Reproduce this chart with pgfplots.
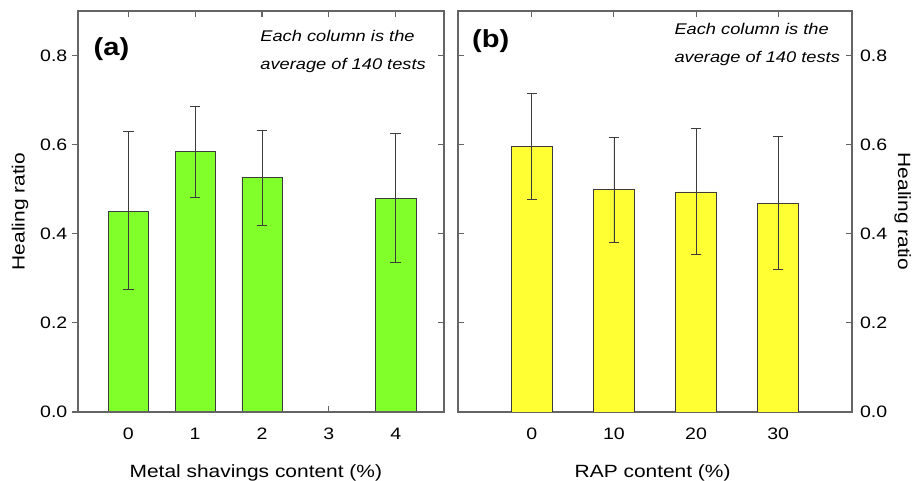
\documentclass[border=0pt]{standalone}
\usepackage{fontspec}
\setmainfont{Liberation Sans}[FakeStretch=1.18]
\usepackage{pgfplots}
\pgfplotsset{compat=1.18}
\usepackage{pgfplotstable}

\definecolor{bargreen}{RGB}{128,255,42}
\definecolor{baryellow}{RGB}{255,255,51}
\definecolor{edge}{RGB}{60,60,60}
\definecolor{axgray}{RGB}{100,100,100}

\pgfplotstableread{
x y ep em
0 0.450 0.180 0.175
1 0.585 0.102 0.104
2 0.526 0.107 0.107
4 0.480 0.146 0.145
}\dataA
\pgfplotstableread{
x y ep em
0 0.596 0.118 0.119
10 0.499 0.118 0.119
20 0.494 0.142 0.140
30 0.469 0.149 0.148
}\dataB

\pgfplotsset{
  panel/.style={
    scale only axis, height=300.75pt,
    ymin=0, ymax=0.9, ytick={0,0.2,0.4,0.6,0.8},
    yticklabel style={/pgf/number format/fixed, /pgf/number format/fixed zerofill, /pgf/number format/precision=1},
    /pgf/number format/assume math mode=true,
    axis line style={axgray, line width=0.95pt},
    every tick/.style={axgray, line width=0.8pt},
    major tick length=4.5pt,
    tick label style={font=\fontsize{12.4}{14}\selectfont},
    label style={font=\fontsize{13.3}{15}\selectfont},
    xticklabel style={yshift=-8.5pt},
    ybar,
  },
  barstyle/.style={draw=edge, line width=0.6pt,
    error bars/.cd, y dir=both, y explicit,
    error bar style={edge, line width=0.6pt},
    error mark options={rotate=90, edge, mark size=4pt, line width=0.6pt},
    /pgfplots/.cd},
}

\begin{document}
\begin{tikzpicture}
\useasboundingbox (-58.5pt,-51.75pt) rectangle (629.25pt,309pt);
% panel (a)
\begin{axis}[panel, at={(0,0)}, anchor=south west, width=274.5pt,
  xmin=-0.75, xmax=4.72, xtick={0,1,2,3,4},
  xtick align=inside, xtick pos=both, xticklabel pos=bottom,
  ytick align=outside, ytick pos=left,
  xlabel={Metal shavings content (\%)},
  ylabel={Healing ratio},
  xlabel style={at={(rel axis cs:0.486,-0.152)}, anchor=center},
  ylabel style={at={(rel axis cs:-0.1585,0.5)}, anchor=center},
]
\addplot[fill=bargreen, bar width=0.6, barstyle]
  table[x=x, y=y, y error plus=ep, y error minus=em]{\dataA};
\node[anchor=west, font=\bfseries\fontsize{18.5}{20}\selectfont] at (rel axis cs:0.030,0.905) {(a)};
\node[anchor=north east, align=left, font=\itshape\fontsize{11.6}{21}\selectfont, inner sep=0pt] at (rel axis cs:0.951,0.953) {Each column is the\\average of 140 tests};
\end{axis}
\begin{axis}[panel, at={(0,0)}, anchor=south west, width=274.5pt,
  xmin=-0.75, xmax=4.72, xtick=\empty,
  ytick align=inside, ytick pos=right, yticklabels={},
]
\end{axis}
% panel (b)
\begin{axis}[panel, at={(285pt,0)}, anchor=south west, width=295.5pt,
  xmin=-9, xmax=39, xtick={0,10,20,30},
  tick align=inside, xtick pos=both, xticklabel pos=bottom,
  ytick pos=both, yticklabel pos=right,
  yticklabel style={xshift=2.5pt},
  xlabel={RAP content (\%)},
  ylabel={Healing ratio},
  xlabel style={at={(rel axis cs:0.494,-0.152)}, anchor=center},
  ylabel style={at={(rel axis cs:1.129,0.5)}, anchor=center, rotate=180},
]
\addplot[fill=baryellow, bar width=5, barstyle]
  table[x=x, y=y, y error plus=ep, y error minus=em]{\dataB};
\node[anchor=west, font=\bfseries\fontsize{18.5}{20}\selectfont] at (rel axis cs:0.024,0.925) {(b)};
\node[anchor=north east, align=left, font=\itshape\fontsize{11.6}{21}\selectfont, inner sep=0pt] at (rel axis cs:0.970,0.970) {Each column is the\\average of 140 tests};
\end{axis}
\end{tikzpicture}
\end{document}
